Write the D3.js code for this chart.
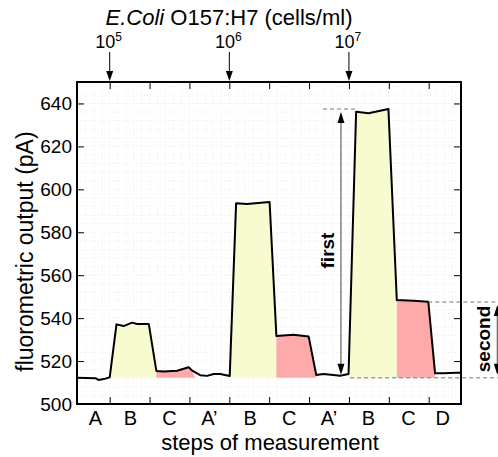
<!DOCTYPE html>
<html>
<head>
  <meta charset="utf-8">
  <title>E.Coli steps of measurement</title>
  <style>
    body { margin: 0; background: #fff; }
    svg { font-family: 'Liberation Sans', Arial, Helvetica, sans-serif; }
    .grid line { stroke: #e2e2e2; stroke-width: 0.7; stroke-dasharray: 1,2.5; }
    .axis path { display: none; }
    .axis line { stroke: #000; stroke-width: 1; }
    .axis text { font-size: 19px; fill: #000; }
  </style>
</head>
<body>
  <div id="chart"></div>
  <script src="https://d3js.org/d3.v7.min.js"></script>
  <script>
    var width = 498,
      height = 457;

    // measurement trace: [step position, output in pA]
    var trace = [
      [0.18, 512.2], [0.64, 512.0], [0.72, 511.2], [0.85, 511.6], [1.00, 512.4],
      [1.17, 537.1], [1.35, 536.3], [1.56, 537.9], [1.69, 537.3], [1.98, 537.3],
      [2.17, 515.4], [2.35, 515.1], [2.69, 515.5], [2.98, 517.1], [3.06, 515.7],
      [3.27, 513.4], [3.44, 513.1], [3.61, 514.0], [3.77, 514.0], [4.01, 513.0],
      [4.17, 593.5], [4.44, 593.2], [5.01, 594.1], [5.18, 531.7], [5.61, 532.3],
      [5.99, 531.4], [6.18, 513.5], [6.36, 514.0], [6.61, 513.5], [6.78, 513.2],
      [6.99, 514.0], [7.18, 636.1], [7.49, 635.4], [7.99, 637.4], [8.20, 548.4],
      [8.62, 548.1], [8.99, 547.6], [9.16, 514.3], [9.37, 514.3], [9.70, 514.5],
      [9.81, 514.5]
    ];

    var baseline = 512.2;
    var firstFill = [[1.00, 2.17], [4.01, 5.18], [6.99, 8.20]];
    var secondFill = [[2.17, 3.15], [5.18, 6.18], [8.20, 9.16]];

    var steps = ["A", "B", "C", "A\u2019", "B", "C", "A\u2019", "B", "C", "D"];
    var stepPos = [0.64, 1.52, 2.5, 3.5, 4.52, 5.5, 6.5, 7.49, 8.49, 9.35];
    var stepTicks = [1, 2, 3, 4, 5, 6, 7, 8, 9];
    var yTicks = [500, 520, 540, 560, 580, 600, 620, 640];

    var concPos = [1, 4, 7];
    var concExp = ["5", "6", "7"];

    var firstTop = 637.4, secondTop = 547.5;

    var x = d3.scaleLinear().domain([0.18, 9.81]).range([77, 461]);
    var y = d3.scaleLinear().domain([500, 650]).range([404, 82]);

    var svg = d3.select("#chart").append("svg")
      .attr("width", width)
      .attr("height", height);

    // dotted background grid
    var grid = svg.append("g").attr("class", "grid");
    grid.selectAll(".gv")
      .data(d3.range(0.4, 9.81, 0.2))
      .enter().append("line")
      .attr("x1", (d) => x(d)).attr("x2", (d) => x(d))
      .attr("y1", y(650)).attr("y2", y(500));
    grid.selectAll(".gh")
      .data(d3.range(504, 650, 4))
      .enter().append("line")
      .attr("x1", x(0.18)).attr("x2", x(9.81))
      .attr("y1", (d) => y(d)).attr("y2", (d) => y(d));

    // value on the trace at step position u
    function valueAt(u) {
      for (var i = 1; i < trace.length; i++) {
        if (u <= trace[i][0]) {
          var a = trace[i - 1], b = trace[i];
          return a[1] + (b[1] - a[1]) * (u - a[0]) / (b[0] - a[0]);
        }
      }
      return trace[trace.length - 1][1];
    }

    function fillPoints(r) {
      var pts = [[r[0], valueAt(r[0])]];
      trace.forEach(function(p) {
        if (p[0] > r[0] && p[0] < r[1]) pts.push(p);
      });
      pts.push([r[1], r === secondFill[0] ? baseline : valueAt(r[1])]);
      return pts;
    }

    var area = d3.area()
      .x((d) => x(d[0]))
      .y0(y(baseline))
      .y1((d) => y(d[1]));

    svg.selectAll(".first")
      .data(firstFill)
      .enter().append("path")
      .attr("d", (r) => area(fillPoints(r)))
      .style("fill", "#f8fad0");

    svg.selectAll(".second")
      .data(secondFill)
      .enter().append("path")
      .attr("d", (r) => area(fillPoints(r)))
      .style("fill", "#ffaaaa");

    // trace
    var line = d3.line()
      .x((d) => x(d[0]))
      .y((d) => y(d[1]));

    svg.append("path")
      .datum(trace)
      .attr("d", line)
      .style("fill", "none")
      .style("stroke", "#000")
      .style("stroke-width", 2)
      .style("stroke-linejoin", "round");

    // axes, ticks pointing inward
    svg.append("g").attr("class", "axis")
      .attr("transform", "translate(" + x(0.18) + ",0)")
      .call(d3.axisLeft(y).tickValues(yTicks).tickSize(-7).tickPadding(5));
    svg.append("g").attr("class", "axis")
      .attr("transform", "translate(" + x(9.81) + ",0)")
      .call(d3.axisRight(y).tickValues(yTicks).tickSize(-7).tickFormat(""));
    svg.append("g").attr("class", "axis")
      .attr("transform", "translate(0," + y(500) + ")")
      .call(d3.axisBottom(x).tickValues(stepTicks).tickSize(-7).tickFormat(""));
    svg.append("g").attr("class", "axis")
      .attr("transform", "translate(0," + y(650) + ")")
      .call(d3.axisTop(x).tickValues(stepTicks).tickSize(-7).tickFormat(""));

    svg.append("rect")
      .attr("x", x(0.18)).attr("y", y(650))
      .attr("width", x(9.81) - x(0.18)).attr("height", y(500) - y(650))
      .style("fill", "none").style("stroke", "#000").style("stroke-width", 2);

    svg.selectAll(".step")
      .data(steps)
      .enter().append("text")
      .attr("x", (d, i) => x(stepPos[i]))
      .attr("y", 425)
      .attr("text-anchor", "middle")
      .style("font-size", "20px")
      .text((d) => d);

    svg.append("text")
      .attr("x", 270).attr("y", 450)
      .attr("text-anchor", "middle")
      .style("font-size", "22px")
      .text("steps of measurement");

    svg.append("text")
      .attr("transform", "translate(33," + y(571) + ") rotate(-90)")
      .attr("text-anchor", "middle")
      .style("font-size", "23px")
      .text("fluorometric output (pA)");

    // title and concentration arrows
    var title = svg.append("text")
      .attr("x", 229).attr("y", 25)
      .attr("text-anchor", "middle")
      .style("font-size", "22px");
    title.append("tspan").style("font-style", "italic").text("E.Coli");
    title.append("tspan").text(" O157:H7 (cells/ml)");

    function head(px, tip, dir, len, w) {
      return "M" + px + "," + tip + "L" + (px - w / 2) + "," + (tip - dir * len) +
        "L" + (px + w / 2) + "," + (tip - dir * len) + "Z";
    }

    var conc = svg.selectAll(".conc")
      .data(concPos)
      .enter().append("g");
    conc.append("line")
      .attr("x1", (d) => x(d)).attr("x2", (d) => x(d))
      .attr("y1", 52).attr("y2", y(650) - 6)
      .style("stroke", "#000").style("stroke-width", 1);
    conc.append("path")
      .attr("d", (d) => head(x(d), y(650) - 1, 1, 10, 7))
      .style("fill", "#000");
    var lab = conc.append("text")
      .attr("x", (d) => x(d) - 1).attr("y", 48)
      .attr("text-anchor", "middle")
      .style("font-size", "18px");
    lab.append("tspan").text("10");
    lab.append("tspan").attr("dy", -7).style("font-size", "12px")
      .text((d, i) => concExp[i]);

    // "first" and "second" annotations
    function dashed(u0, x1, v) {
      svg.append("line")
        .attr("x1", x(u0)).attr("x2", x1)
        .attr("y1", y(v)).attr("y2", y(v))
        .style("stroke", "#777").style("stroke-width", 1)
        .style("stroke-dasharray", "4,3");
    }
    dashed(6.35, x(7.18), firstTop);
    dashed(7.03, width, baseline);
    dashed(8.99, width, secondTop);

    function doubleArrow(u, vTop, vBot) {
      var px = x(u), t = y(vTop) + 3, b = y(vBot) - 3;
      svg.append("line")
        .attr("x1", px).attr("x2", px).attr("y1", t + 8).attr("y2", b - 8)
        .style("stroke", "#444").style("stroke-width", 1);
      svg.append("path").attr("d", head(px, t, -1, 11, 7)).style("fill", "#000");
      svg.append("path").attr("d", head(px, b, 1, 11, 7)).style("fill", "#000");
    }
    doubleArrow(6.80, firstTop, baseline);
    doubleArrow(10.72, secondTop, baseline);

    svg.append("text")
      .attr("transform", "translate(" + x(6.45) + "," + y(571.5) + ") rotate(-90)")
      .attr("text-anchor", "middle").attr("dy", "0.35em")
      .style("font-size", "19px").style("font-weight", "bold")
      .text("first");
    svg.append("text")
      .attr("transform", "translate(" + x(10.36) + "," + y(530.3) + ") rotate(-90)")
      .attr("text-anchor", "middle").attr("dy", "0.35em")
      .style("font-size", "19px").style("font-weight", "bold")
      .text("second");
  </script>
</body>
</html>
